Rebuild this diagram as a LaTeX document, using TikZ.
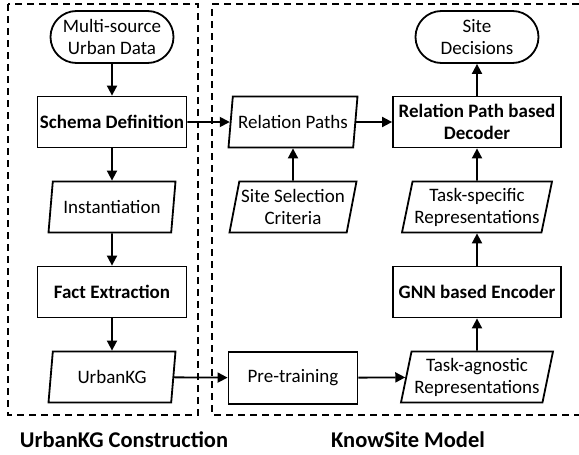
\documentclass[tikz,border=0pt]{standalone}
\usepackage{fontspec}
\setmainfont{Carlito}
\usetikzlibrary{positioning,arrows.meta,shapes.geometric,shapes.misc}

\begin{document}
\begin{tikzpicture}[x=1pt,y=-1pt,>={Triangle[length=10pt,width=10pt]},
  node distance=85pt and 182pt,on grid,line width=1.8pt,
  font=\fontsize{19}{22}\selectfont,
  term/.style={rounded rectangle,draw,align=center,minimum width=125pt,minimum height=52pt,inner sep=1pt},
  proc/.style={rectangle,draw,align=center,font=\fontsize{19}{22}\selectfont\bfseries,minimum width=149pt,minimum height=51pt,inner xsep=2pt},
  io/.style={trapezium,trapezium left angle=76,trapezium right angle=104,trapezium stretches body=true,draw,align=center,minimum width=127pt,minimum height=51pt,inner xsep=0pt,inner ysep=2pt},
  grp/.style={dash pattern=on 7pt off 5pt,line width=1.8pt},
  grplabel/.style={font=\fontsize{22.5}{26}\selectfont\bfseries}]
\useasboundingbox (0,0) rectangle (579,455);
% group frames
\draw[grp] (8,4) rectangle (198,415);
\draw[grp] (579,4) -- (212,4) -- (212,415) -- (579,415);
\node[grplabel] (lblL) at (124,440) {UrbanKG Construction};
\node[grplabel] (lblR) at (408,440) {KnowSite Model};
% UrbanKG construction
\node[term] (src) at (112,37) {Multi-source\\Urban Data};
\node[proc,below=of src] (schema) {Schema Definition};
\node[io,below=of schema] (inst) {Instantiation};
\node[proc,below=of inst] (fact) {Fact Extraction};
\node[io,below=of fact] (ukg) {UrbanKG};
% KnowSite model
\node[io,minimum width=129pt,right=181pt of schema] (rel) {Relation Paths};
\node[io,below=of rel] (crit) {Site Selection\\Criteria};
\node[proc,minimum width=168pt,right=184pt of rel] (dec) {Relation Path based\\Decoder};
\node[term,above=of dec] (out) {Site\\Decisions};
\node[io,minimum width=150pt,below=of dec] (tspec) {Task-specific\\Representations};
\node[proc,minimum width=168pt,below=of tspec] (gnn) {GNN based Encoder};
\node[io,minimum width=152pt,below=of gnn] (tagn) {Task-agnostic\\Representations};
\node[proc,minimum width=129pt,minimum height=52pt,font=\fontsize{19}{22}\selectfont,below=of crit,yshift=-86pt] (pre) {Pre-training};
\draw[->] (src) -- (schema);
\draw[->] (schema) -- (inst);
\draw[->] (inst) -- (fact);
\draw[->] (fact) -- (ukg);
\draw[->] (schema) -- (rel);
\draw[->] (crit) -- (rel);
\draw[->] (rel) -- (dec);
\draw[->] (dec) -- (out);
\draw[->] (tspec) -- (dec);
\draw[->] (gnn) -- (tspec);
\draw[->] (tagn) -- (gnn);
\draw[->] (pre) -- (tagn);
\draw[->] (ukg) -- (pre);
\end{tikzpicture}
\end{document}
